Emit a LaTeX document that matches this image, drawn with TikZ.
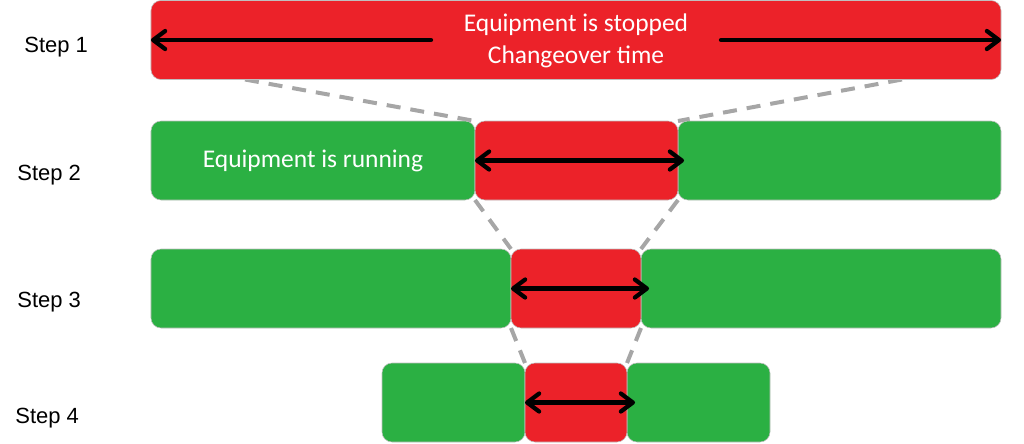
\documentclass[tikz,border=0pt]{standalone}
\usepackage{fontspec}
\setmainfont{Liberation Sans}
\newfontfamily\calibri{Carlito}
\usetikzlibrary{arrows.meta, backgrounds}

\definecolor{stopred}{RGB}{236,34,41}
\definecolor{rungreen}{RGB}{43,176,67}
\definecolor{dashgray}{RGB}{166,166,166}

\begin{document}
\begin{tikzpicture}[
    x=0.2mm, y=-0.2mm,
    >={Straight Barb[length=2.4mm, width=3.6mm, round]},
    phase/.style={
        rectangle, rounded corners=2mm, draw=black!25, line width=0.3pt,
        minimum height=15.8mm, inner sep=0pt, outer sep=0pt,
        text=white, align=center, font=\calibri\fontsize{14.5}{18}\selectfont
    },
    stopped/.style={phase, fill=stopred},
    running/.style={phase, fill=rungreen},
    steplabel/.style={anchor=base west, inner sep=0pt, font=\fontsize{12.5}{15}\selectfont},
    span/.style={line width=0.85mm, line cap=round},
    zoomline/.style={dashgray, line width=0.8mm, dash pattern=on 2.8mm off 2mm},
]
\useasboundingbox (0,0) rectangle (1024,443);

% Step 1 (whole changeover)
\node[steplabel] (s1) at (24,52) {Step 1};
\node[stopped, minimum width=170mm] (stop1) at (576,40) {};
\node[text=white, align=center, font=\calibri\fontsize{14.5}{18}\selectfont] (txt1) at (576,41) {Equipment is stopped\\Changeover time};

% Step 2
\node[steplabel] (s2) at (17,180) {Step 2};
\node[running, minimum width=64.8mm] (run2a) at (313,160.5) {Equipment is running};
\node[running, minimum width=64.6mm] (run2b) at (839.5,160.5) {};
\node[stopped, minimum width=40.6mm] (stop2) at (576.5,160.5) {};

% Step 3
\node[steplabel] (s3) at (17,307) {Step 3};
\node[running, minimum width=72mm] (run3a) at (331,288.5) {};
\node[running, minimum width=72mm] (run3b) at (821,288.5) {};
\node[stopped, minimum width=26mm] (stop3) at (576,288.5) {};

% Step 4
\node[steplabel] (s4) at (15,423) {Step 4};
\node[running, minimum width=28.6mm] (run4a) at (453.5,402.5) {};
\node[running, minimum width=28.6mm] (run4b) at (698.5,402.5) {};
\node[stopped, minimum width=20.4mm] (stop4) at (576,402.5) {};

% dashed zoom lines between the steps
\begin{scope}[on background layer]
\draw[zoomline] ([xshift=18.8mm]stop1.south west) -- (stop2.north west);
\draw[zoomline] ([xshift=-19.8mm]stop1.south east) -- (stop2.north east);
\draw[zoomline] (stop2.south west) -- (stop3.north west);
\draw[zoomline] (stop2.south east) -- (stop3.north east);
\draw[zoomline] (stop3.south west) -- (stop4.north west);
\draw[zoomline] (stop3.south east) -- (stop4.north east);
\end{scope}

% changeover time arrows
\coordinate (l1) at (431,40);
\coordinate (r1) at (721,40);
\draw[span, ->] (l1) -- (stop1.west);
\draw[span, ->] (r1) -- (stop1.east);
\draw[span, <->] (stop2.west) -- ([xshift=1.2mm]stop2.east);
\draw[span, <->] (stop3.west) -- ([xshift=1.6mm]stop3.east);
\draw[span, <->] (stop4.west) -- ([xshift=1.6mm]stop4.east);

\end{tikzpicture}
\end{document}
